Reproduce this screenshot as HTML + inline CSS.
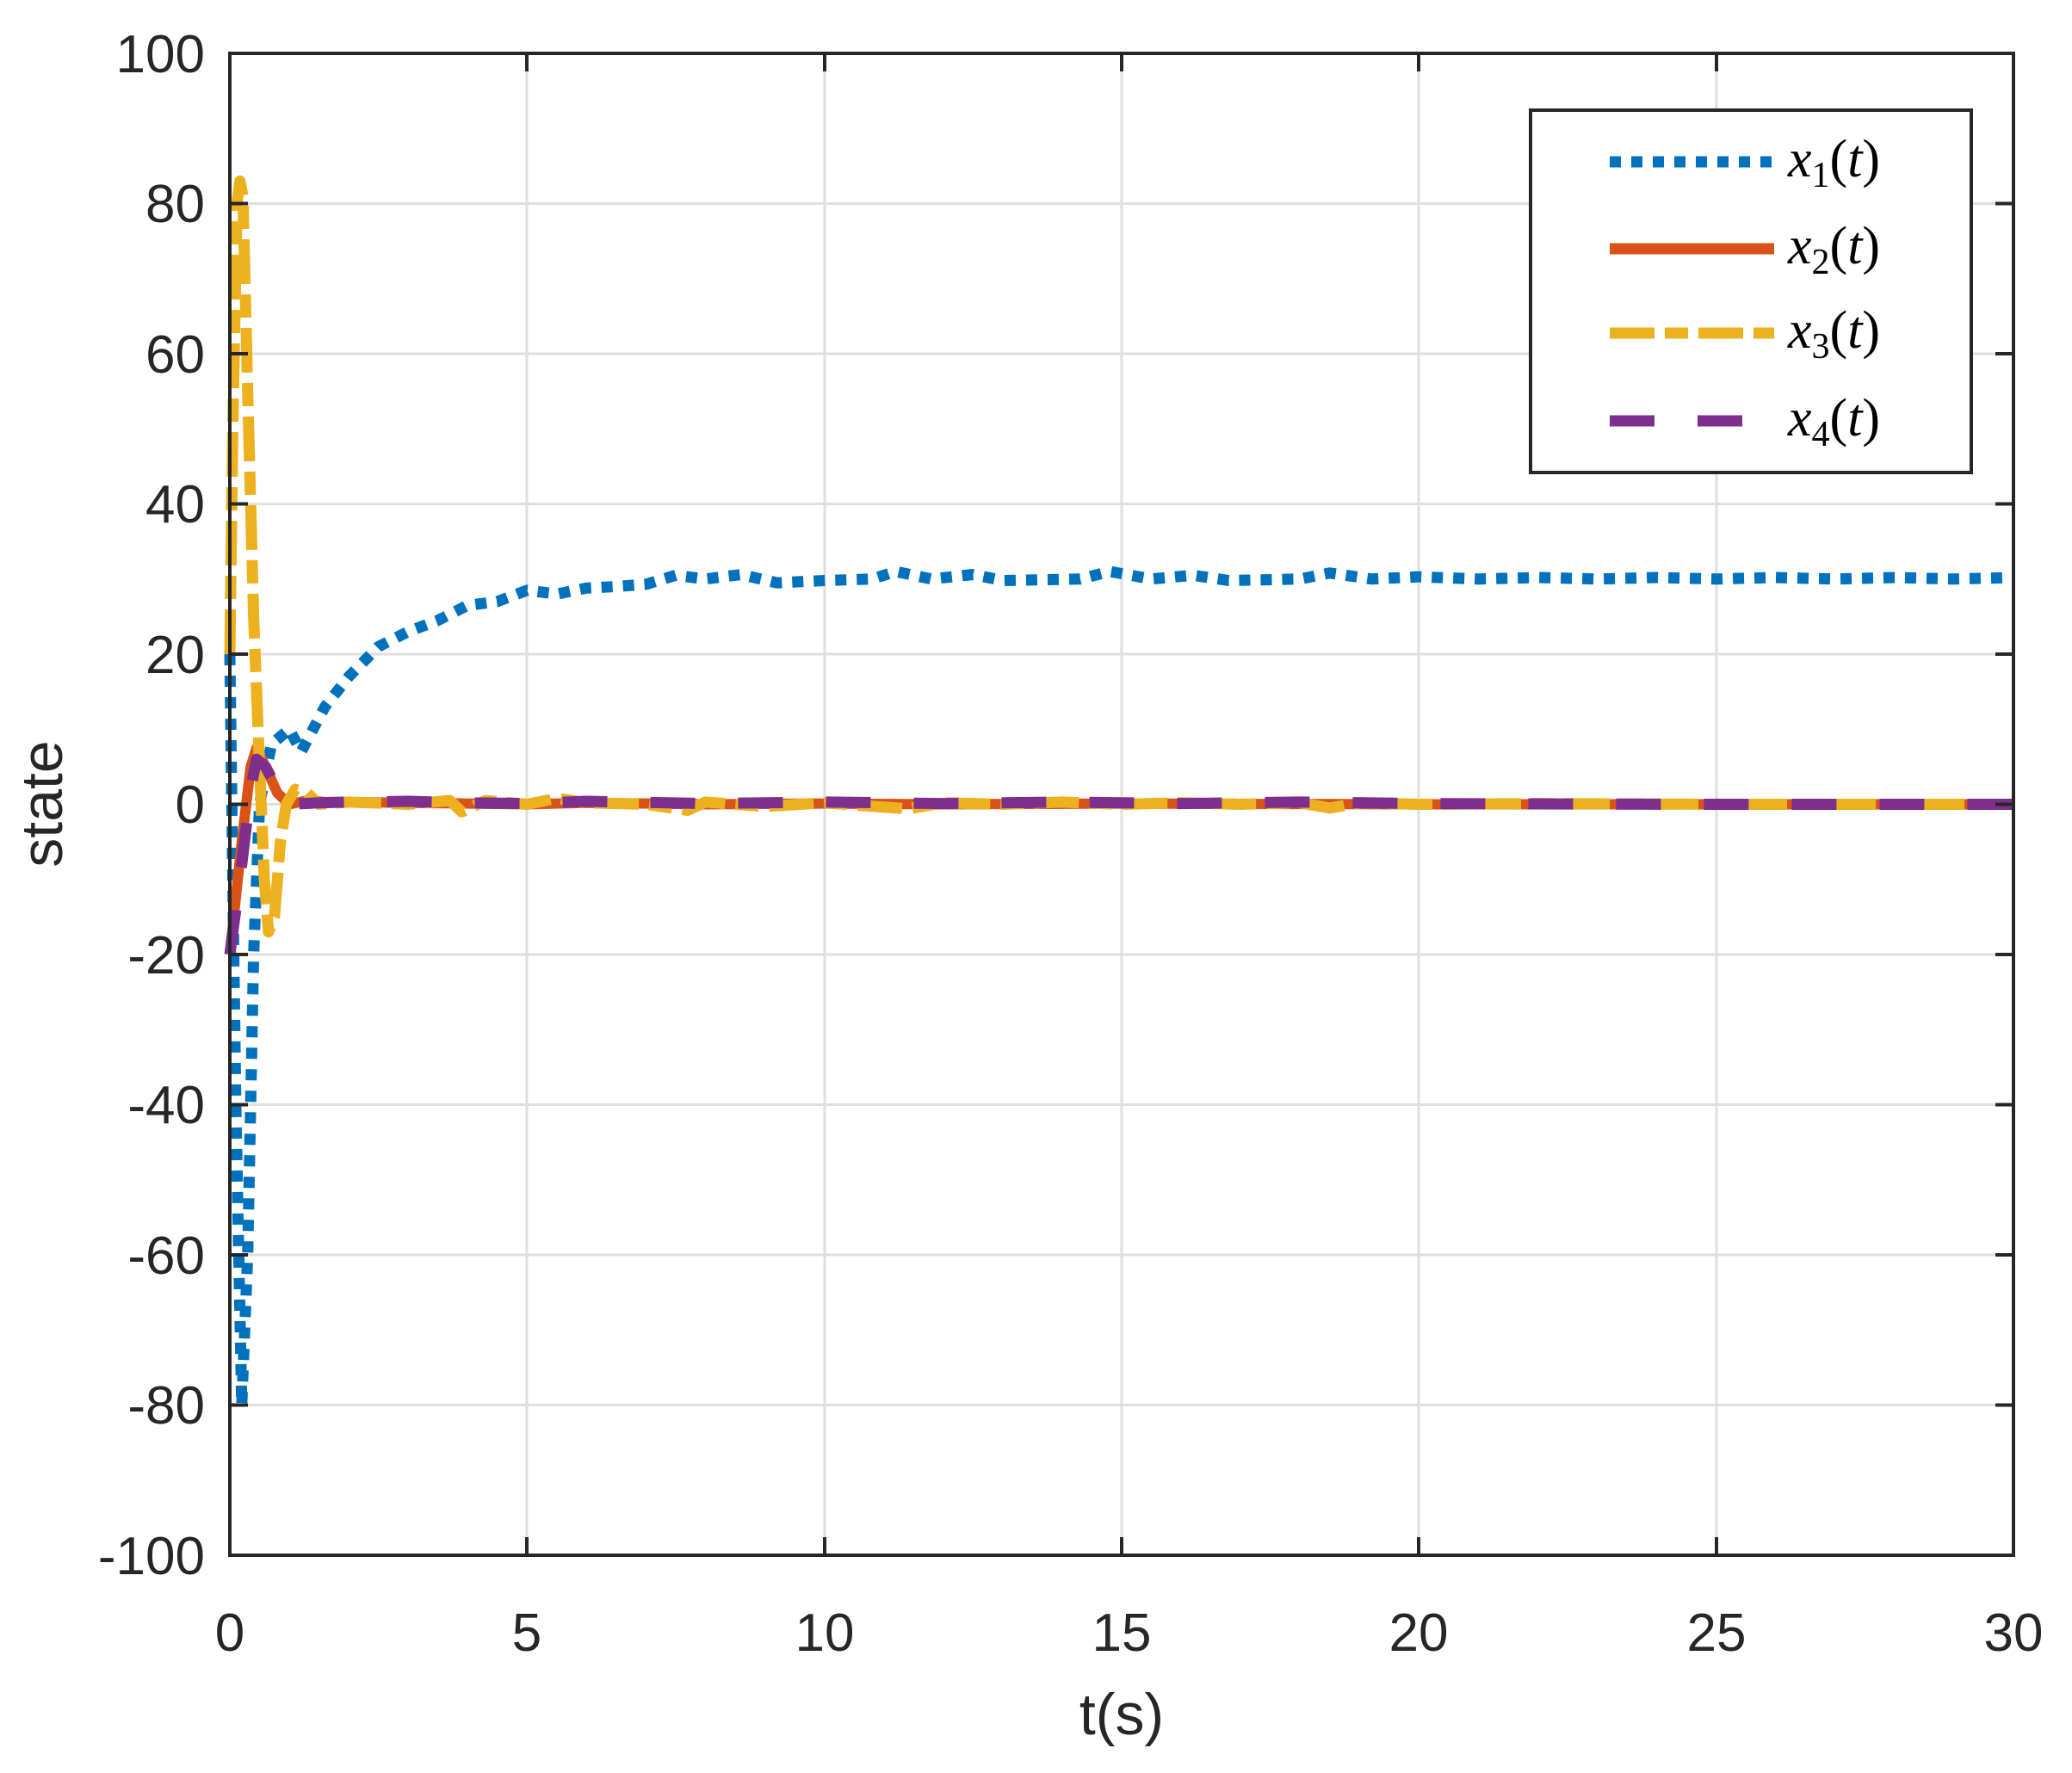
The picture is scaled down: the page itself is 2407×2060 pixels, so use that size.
<!DOCTYPE html>
<html><head><meta charset="utf-8"><style>
html,body{margin:0;padding:0;background:#fff;}
svg{display:block;}
text{font-family:"Liberation Sans",sans-serif;fill:#262626;}
</style></head><body>
<svg width="2407" height="2060" viewBox="0 0 2407 2060" xmlns="http://www.w3.org/2000/svg">
<rect width="2407" height="2060" fill="#fff"/>
<g stroke="#dfdfdf" stroke-width="3">
<line x1="612" y1="62" x2="612" y2="1807"/><line x1="958" y1="62" x2="958" y2="1807"/><line x1="1303" y1="62" x2="1303" y2="1807"/><line x1="1648" y1="62" x2="1648" y2="1807"/><line x1="1994" y1="62" x2="1994" y2="1807"/>
<line x1="267" y1="236.5" x2="2339" y2="236.5"/><line x1="267" y1="411" x2="2339" y2="411"/><line x1="267" y1="585.5" x2="2339" y2="585.5"/><line x1="267" y1="760" x2="2339" y2="760"/><line x1="267" y1="934.5" x2="2339" y2="934.5"/><line x1="267" y1="1109" x2="2339" y2="1109"/><line x1="267" y1="1283.5" x2="2339" y2="1283.5"/><line x1="267" y1="1458" x2="2339" y2="1458"/><line x1="267" y1="1632.5" x2="2339" y2="1632.5"/>
</g>
<g fill="none" stroke-linejoin="round" transform="matrix(69.07 0 0 -8.725 267 934.5)">
<polyline vector-effect="non-scaling-stroke" stroke="#0072bd" stroke-width="13" stroke-dasharray="13 12" points="0,20 0.1,-40 0.2,-80 0.3,-60 0.4,-20 0.5,0 0.7,8 1,10 1.2,7 1.6,13 2,17 2.5,21 3,23 3.5,24.5 4,26.5 4.5,27 5,28.5 5.5,28 6,28.8 6.5,29 7,29.3 7.5,30.5 8,30 8.6,30.6 9.2,29.5 10,29.8 10.8,30 11.2,31 11.8,30 12.5,30.6 13,29.8 14.3,30 14.8,31 15.5,30 16.2,30.5 16.8,29.8 18,30 18.5,30.8 19.2,30 20,30.3 21,30 22,30.2 23,30 24,30.2 25,30 26,30.2 27,30 28,30.2 29,30 30,30.2"/>
<polyline vector-effect="non-scaling-stroke" stroke="#d95319" stroke-width="12" points="0,-20 0.2,-5 0.35,5 0.45,7.5 0.6,5 0.8,1.5 1,0 1.3,0.5 1.6,0.3 2,0.3 3,0.2 5,0 6,0.2 8,0 10,0.1 12,0 15,0.1 20,0 30,0"/>
<polyline vector-effect="non-scaling-stroke" stroke="#edb120" stroke-width="13" stroke-dasharray="52 12 27 12" points="0,20 0.05,50 0.12,80 0.17,83 0.22,81 0.3,55 0.4,25 0.5,5 0.58,-10 0.65,-17 0.75,-15 0.85,-5 0.95,0 1.1,2 1.3,1.5 1.5,0 2,0.3 3,0 3.7,0.5 3.9,-1 4.3,0.5 5,0 5.5,0.8 6,0.2 7,0 7.7,-0.8 8,0.3 9,-0.3 10,0.2 11.4,-0.6 12,0.2 13,0 14,0.3 15,0 16,0.2 17,0 18,0.2 18.5,-0.5 19,0.2 20,0 22,0.1 25,0 30,0"/>
<polyline vector-effect="non-scaling-stroke" stroke="#7e2f8e" stroke-width="13" stroke-dasharray="52 50" points="0,-20 0.2,-8 0.35,2 0.45,6 0.6,5 0.8,2 1,0 1.5,0.2 2,0.3 3,0.4 4,0.2 5,0.1 6,0.4 8,0.1 10,0.3 12,0.1 14,0.3 16,0.1 18,0.3 20,0.1 25,0 30,0"/>
</g>
<rect x="267" y="62" width="2072" height="1745" stroke="#262626" stroke-width="4" fill="none"/>
<g stroke="#262626" stroke-width="4">
<line x1="612" y1="1807" x2="612" y2="1786"/><line x1="958" y1="1807" x2="958" y2="1786"/><line x1="1303" y1="1807" x2="1303" y2="1786"/><line x1="1648" y1="1807" x2="1648" y2="1786"/><line x1="1994" y1="1807" x2="1994" y2="1786"/>
<line x1="612" y1="62" x2="612" y2="83"/><line x1="958" y1="62" x2="958" y2="83"/><line x1="1303" y1="62" x2="1303" y2="83"/><line x1="1648" y1="62" x2="1648" y2="83"/><line x1="1994" y1="62" x2="1994" y2="83"/>
<line x1="267" y1="236.5" x2="288" y2="236.5"/><line x1="267" y1="411" x2="288" y2="411"/><line x1="267" y1="585.5" x2="288" y2="585.5"/><line x1="267" y1="760" x2="288" y2="760"/><line x1="267" y1="934.5" x2="288" y2="934.5"/><line x1="267" y1="1109" x2="288" y2="1109"/><line x1="267" y1="1283.5" x2="288" y2="1283.5"/><line x1="267" y1="1458" x2="288" y2="1458"/><line x1="267" y1="1632.5" x2="288" y2="1632.5"/>
<line x1="2339" y1="236.5" x2="2318" y2="236.5"/><line x1="2339" y1="411" x2="2318" y2="411"/><line x1="2339" y1="585.5" x2="2318" y2="585.5"/><line x1="2339" y1="760" x2="2318" y2="760"/><line x1="2339" y1="934.5" x2="2318" y2="934.5"/><line x1="2339" y1="1109" x2="2318" y2="1109"/><line x1="2339" y1="1283.5" x2="2318" y2="1283.5"/><line x1="2339" y1="1458" x2="2318" y2="1458"/><line x1="2339" y1="1632.5" x2="2318" y2="1632.5"/>
</g>
<g font-size="62" text-anchor="end">
<text x="238" y="84">100</text><text x="238" y="258">80</text><text x="238" y="433">60</text><text x="238" y="607">40</text><text x="238" y="782">20</text><text x="238" y="956">0</text><text x="238" y="1131">-20</text><text x="238" y="1305">-40</text><text x="238" y="1480">-60</text><text x="238" y="1654">-80</text><text x="238" y="1829">-100</text>
</g>
<g font-size="62" text-anchor="middle">
<text x="267" y="1918">0</text><text x="612" y="1918">5</text><text x="958" y="1918">10</text><text x="1303" y="1918">15</text><text x="1648" y="1918">20</text><text x="1994" y="1918">25</text><text x="2339" y="1918">30</text>
<text x="1303" y="2015" font-size="68">t(s)</text>
</g>
<text transform="translate(72 934) rotate(-90)" font-size="68" text-anchor="middle">state</text>
<rect x="1778" y="128" width="512" height="421" fill="#fff" stroke="#262626" stroke-width="4"/>
<g stroke-width="13">
<line x1="1870" y1="188" x2="2061" y2="188" stroke="#0072bd" stroke-dasharray="13 12"/>
<line x1="1870" y1="289" x2="2061" y2="289" stroke="#d95319"/>
<line x1="1870" y1="387" x2="2061" y2="387" stroke="#edb120" stroke-dasharray="52 12 27 12"/>
<line x1="1870" y1="489" x2="2061" y2="489" stroke="#7e2f8e" stroke-dasharray="52 50"/>
</g>
<g font-family="Liberation Serif,serif" font-size="62">
<text x="2077" y="205" style="fill:#000;font-family:'Liberation Serif',serif"><tspan font-style="italic">x</tspan><tspan font-size="42" dy="12">1</tspan><tspan dy="-12">(</tspan><tspan font-style="italic">t</tspan>)</text>
<text x="2077" y="306" style="fill:#000;font-family:'Liberation Serif',serif"><tspan font-style="italic">x</tspan><tspan font-size="42" dy="12">2</tspan><tspan dy="-12">(</tspan><tspan font-style="italic">t</tspan>)</text>
<text x="2077" y="404" style="fill:#000;font-family:'Liberation Serif',serif"><tspan font-style="italic">x</tspan><tspan font-size="42" dy="12">3</tspan><tspan dy="-12">(</tspan><tspan font-style="italic">t</tspan>)</text>
<text x="2077" y="506" style="fill:#000;font-family:'Liberation Serif',serif"><tspan font-style="italic">x</tspan><tspan font-size="42" dy="12">4</tspan><tspan dy="-12">(</tspan><tspan font-style="italic">t</tspan>)</text>
</g>
</svg>
</body></html>
